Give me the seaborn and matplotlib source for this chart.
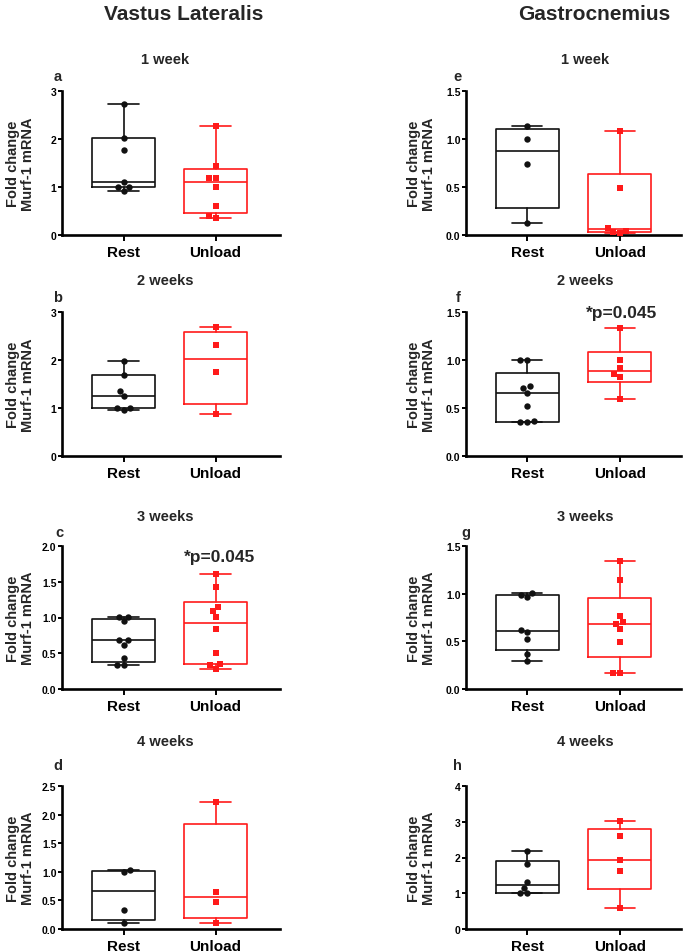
import numpy as np
import pandas as pd
import matplotlib
matplotlib.use('Agg')
import matplotlib.pyplot as plt
import seaborn as sns

groups = ['Rest', 'Unload']
weeks = ['1 week', '2 weeks', '3 weeks', '4 weeks']
muscles = ['Vastus Lateralis', 'Gastrocnemius']
letters = [['a', 'b', 'c', 'd'], ['e', 'f', 'g', 'h']]

# fold change values, one list per week
vl_rest = [
    [0.92, 1.00, 1.00, 1.10, 1.78, 2.02, 2.72],
    [0.95, 1.00, 1.00, 1.25, 1.36, 1.68, 1.98],
    [0.33, 0.33, 0.43, 0.62, 0.69, 0.69, 0.945, 1.01, 1.01],
    [0.11, 0.33, 1.00, 1.03],
]
vl_unload = [
    [0.35, 0.40, 0.60, 1.01, 1.19, 1.19, 1.44, 2.27],
    [0.87, 1.745, 2.31, 2.68],
    [0.284, 0.34, 0.349, 0.507, 0.837, 1.01, 1.09, 1.14, 1.42, 1.61],
    [0.10, 0.467, 0.642, 2.225],
]
gn_rest = [
    [0.13, 0.74, 1.00, 1.135],
    [0.35, 0.35, 0.365, 0.517, 0.656, 0.71, 0.73, 1.00, 1.00],
    [0.295, 0.37, 0.528, 0.60, 0.618, 0.96, 0.99, 1.003],
    [1.00, 1.00, 1.157, 1.324, 1.815, 2.19],
]
gn_unload = [
    [0.025, 0.03, 0.04, 0.075, 0.49, 1.08],
    [0.597, 0.823, 0.854, 0.913, 1.00, 1.337],
    [0.163, 0.17, 0.493, 0.628, 0.684, 0.698, 0.77, 1.14, 1.344],
    [0.60, 1.62, 1.917, 2.59, 3.03],
]
vl_ymax = [3, 3, 2.0, 2.5]
vl_ystep = [1, 1, 0.5, 0.5]
gn_ymax = [1.5, 1.5, 1.5, 4]
gn_ystep = [0.5, 0.5, 0.5, 1]
sig_label = '*p=0.045'
sig_panels = {'c': (1.04, 1.86), 'f': (1.02, 1.49)}

sns.set_style('ticks')
plt.rcParams['font.family'] = ['Liberation Sans', 'DejaVu Sans']
plt.rcParams['font.weight'] = 'bold'
plt.rcParams['axes.labelweight'] = 'bold'

colors = {'Rest': '#111111', 'Unload': '#ff1a1a'}
markers = {'Rest': 'o', 'Unload': 's'}

W, H = 685, 953
fig = plt.figure(figsize=(W / 100, H / 100), dpi=100)

col_x = [(62, 280), (466, 681)]
row_y = [(92, 236), (313, 457), (547, 690), (787, 930)]
title_y = [60, 281, 517, 742]
title_x = [165, 585]
head_x = [184, 594]
letter_x = [[58, 58, 59, 58], [457, 458, 466, 457]]
letter_y = [77, 298, 533, 766]
label_x = [35, 436]
xlims = [(-0.67, 1.70), (-0.66, 1.66)]


def prism_stats(vals):
    v = np.asarray(vals, dtype=float)
    q1, med, q3 = np.percentile(v, [25, 50, 75], method='weibull')
    return dict(med=med, q1=q1, q3=q3, whislo=v.min(), whishi=v.max(), fliers=[])


all_data = [(vl_rest, vl_unload, vl_ymax, vl_ystep), (gn_rest, gn_unload, gn_ymax, gn_ystep)]

for c, (rest, unload, ymax, ystep) in enumerate(all_data):
    x0, x1 = col_x[c]
    fig.text(head_x[c] / W, 1 - 14 / H, muscles[c], ha='center', va='center', fontsize=15,
             fontweight='bold', family=['Liberation Sans Narrow', 'Liberation Sans', 'DejaVu Sans'])
    for r in range(4):
        top, bot = row_y[r]
        ax = fig.add_axes([x0 / W, 1 - bot / H, (x1 - x0) / W, (bot - top) / H])
        df = pd.DataFrame({
            'group': ['Rest'] * len(rest[r]) + ['Unload'] * len(unload[r]),
            'value': rest[r] + unload[r],
        })
        for i, g in enumerate(groups):
            col = colors[g]
            sub = df[df['group'] == g]
            lp = dict(color=col, linewidth=1.2)
            ax.bxp([prism_stats(sub['value'])], positions=[i], widths=0.68, capwidths=0.33,
                   showfliers=False, manage_ticks=False, boxprops=lp, medianprops=lp,
                   whiskerprops=lp, capprops=lp)
            sns.swarmplot(data=sub, x='group', y='value', order=groups, color=col,
                          marker=markers[g], size=4.6, linewidth=0, ax=ax, zorder=3,
                          clip_on=False, warn_thresh=1)

        ax.set_xlim(*xlims[c])
        ax.set_ylim(0, ymax[r])
        ticks = np.arange(0, ymax[r] + ystep[r] / 2, ystep[r])
        ax.set_yticks(ticks)
        if ystep[r] < 1:
            ax.set_yticklabels(['%.1f' % t for t in ticks])
        else:
            ax.set_yticklabels(['%d' % t for t in ticks])
        ax.set_xticks([0, 1])
        ax.set_xticklabels(groups, fontsize=11, fontweight='bold')
        ax.set_xlabel('')
        ax.set_ylabel('Fold change\nMurf-1 mRNA', fontsize=10.5, fontweight='bold', linespacing=1.05)
        ax.yaxis.set_label_coords((label_x[c] - x0) / (x1 - x0), 0.5)
        sns.despine(ax=ax)
        for s in ['left', 'bottom']:
            ax.spines[s].set_linewidth(1.9)
            ax.spines[s].set_color('black')
        ax.tick_params(axis='y', labelsize=7.5, length=3, width=1.4, pad=1, colors='black')
        ax.tick_params(axis='x', length=4, width=1.4, pad=3, colors='black')
        ax.set_facecolor('none')

        fig.text(title_x[c] / W, 1 - title_y[r] / H, weeks[r], ha='center', va='center',
                 fontsize=10.5, fontweight='bold')
        letter = letters[c][r]
        fig.text(letter_x[c][r] / W, 1 - letter_y[r] / H, letter, ha='center', va='center',
                 fontsize=10.5, fontweight='bold')
        if letter in sig_panels:
            tx, ty = sig_panels[letter]
            ax.text(tx, ty, sig_label, ha='center', va='center', fontsize=12.5,
                    fontweight='bold', clip_on=False)

fig.savefig('out.png', dpi=100)
